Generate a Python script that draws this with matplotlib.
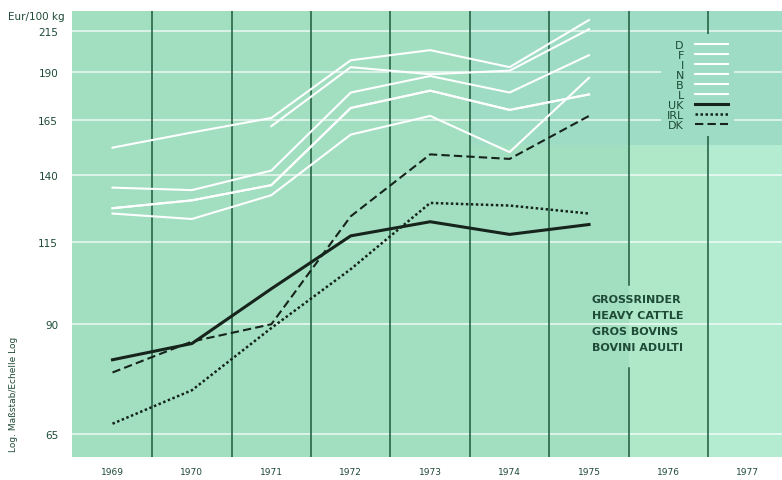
import numpy as np
import matplotlib
matplotlib.use("Agg")
import matplotlib.pyplot as plt

# prices, Eur/100 kg (log scale)
years = [1969, 1970, 1971, 1972, 1973, 1974, 1975]
d_vals = [152, 159, 166, 197, 203, 193, 222]
f_vals = [np.nan, np.nan, 162, 193, 189, 191, 216]
i_vals = [125, 123, 132, 158, 167, 150, 187]
n_vals = [135, 134, 142, 179, 188, 179, 200]
b_vals = [127, 130, 136, 171, 180, 170, 178]
l_vals = [127, 130, 136, 171, 180, 170, 178]
uk_vals = [81, 85, 100, 117, 122, 117.5, 121]
irl_vals = [67, 74, 89, 106, 129, 128, 125]
dk_vals = [78, 85.5, 90, 124, 149, 147, 167]

year_labels = [1969, 1970, 1971, 1972, 1973, 1974, 1975, 1976, 1977]
y_ticks = [65, 90, 115, 140, 165, 190, 215]
caption = ["GROSSRINDER", "HEAVY CATTLE", "GROS BOVINS", "BOVINI ADULTI"]

text_col = "#1e4a36"
bg = "#a2dfc1"
bg_top = "#9edcc6"

fig = plt.figure(figsize=(7.82, 4.81), dpi=100)
ax = fig.add_axes([72 / 782, 23 / 481, 710 / 782, 446 / 481])
ax.set_facecolor(bg)
ax.set_yscale("log")
ax.set_xlim(1968.49, 1977.43)
ax.set_ylim(60.7, 228)

# background patches
ax.axvspan(1973.5, 1977.43, ymin=0.70, ymax=1.0, color=bg_top, lw=0, zorder=0)
ax.axvspan(1975.5, 1976.5, ymin=0.0, ymax=0.70, color="#aee8c9", lw=0, zorder=0)
ax.axvspan(1976.5, 1977.43, ymin=0.0, ymax=0.70, color="#b4ecd2", lw=0, zorder=0)

for t in y_ticks:
    ax.axhline(t, color="white", lw=1.1, alpha=0.8, zorder=1)
for yr in year_labels[:-1]:
    if yr == 1975:
        # gap where the caption sits
        ax.axvline(yr + 0.5, ymin=0.0, ymax=0.20, color="#1d5a3b", lw=1.1, zorder=2)
        ax.axvline(yr + 0.5, ymin=0.385, ymax=1.0, color="#1d5a3b", lw=1.1, zorder=2)
    else:
        ax.axvline(yr + 0.5, color="#1d5a3b", lw=1.1, zorder=2)

white = dict(color="white", lw=1.5, zorder=3)
ax.plot(years, d_vals, label="D", **white)
ax.plot(years, f_vals, label="F", **white)
ax.plot(years, i_vals, label="I", **white)
ax.plot(years, n_vals, label="N", **white)
ax.plot(years, b_vals, label="B", **white)
ax.plot(years, l_vals, label="L", **white)
ax.plot(years, uk_vals, color="#16241c", lw=2.2, label="UK", zorder=4)
ax.plot(years, irl_vals, color="#16241c", lw=1.8, ls=(0, (1, 1)),
        label="IRL", zorder=4)
ax.plot(years, dk_vals, color="#16241c", lw=1.5, ls=(0, (4, 2)),
        label="DK", zorder=4)

ax.set_yticks(y_ticks)
ax.set_yticklabels([str(t) for t in y_ticks])
ax.yaxis.set_minor_locator(matplotlib.ticker.NullLocator())
ax.set_xticks(year_labels)
ax.set_xticklabels([str(y) for y in year_labels])
ax.tick_params(axis="y", length=0, pad=10, labelsize=7.5, labelcolor=text_col)
ax.tick_params(axis="x", length=0, pad=7, labelsize=6.5, labelcolor=text_col)
for s in ax.spines.values():
    s.set_visible(False)

leg = ax.legend(loc="upper right", bbox_to_anchor=(0.94, 0.96),
                markerfirst=False, fontsize=8, handlelength=3.0,
                labelspacing=0.0, handletextpad=1.0, borderpad=0.5,
                frameon=True, facecolor=bg_top, edgecolor="none",
                framealpha=1.0)
for txt in leg.get_texts():
    txt.set_color(text_col)

ax.text(0.732, 0.365, "\n".join(caption), transform=ax.transAxes,
        fontsize=8, color=text_col, fontweight="bold", va="top",
        ha="left", linespacing=1.75, zorder=5)

fig.text(8 / 782, 1 - 17 / 481, "Eur/100 kg", fontsize=7.5, color=text_col,
         va="center", ha="left")
fig.text(13 / 782, 1 - 452 / 481, "Log. Maßstab/Echelle Log", fontsize=6.5,
         color=text_col, rotation=90, va="bottom", ha="center")

fig.savefig("out.png", dpi=100, facecolor="white")
